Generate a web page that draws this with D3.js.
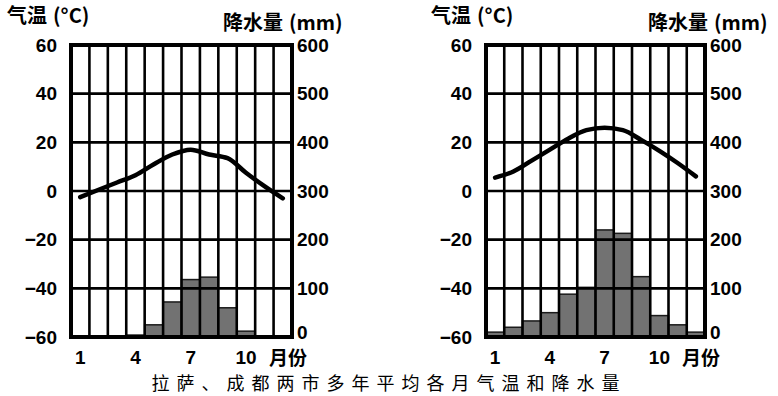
<!DOCTYPE html>
<html>
<head>
<meta charset="utf-8">
<script src="https://cdn.jsdelivr.net/npm/d3@7"></script>
<style>
  body { margin: 0; background: #fff; }
  svg { display: block; }
</style>
</head>
<body>
<div id="chart"></div>
<script>
(function() {
    "use strict";

    //==========================================================================================
    // Data
    //==========================================================================================
    var months = [1, 2, 3, 4, 5, 6, 7, 8, 9, 10, 11, 12];
    var monthTicks = [1, 4, 7, 10];
    var tempTicks = [60, 40, 20, 0, -20, -40, -60];
    var precipTicks = [600, 500, 400, 300, 200, 100, 0];

    // 拉萨
    var lhasaTemp = [-2.5, 0.5, 3.5, 6.5, 11, 15, 17, 15, 13.5, 7.5, 2, -3];
    var lhasaPrecip = [1, 2, 2, 4, 25, 72, 118, 123, 60, 12, 1, 1];

    // 成都
    var chengduTemp = [5.5, 8, 12.5, 17, 21.5, 25, 26, 25, 21, 16.5, 11.5, 6];
    var chengduPrecip = [10, 20, 33, 50, 88, 102, 220, 213, 124, 44, 25, 10];

    var width = 778;
    var height = 396;
    var top = 45;
    var bottom = 337;
    var numFont = "'Liberation Sans', Arial, sans-serif";
    var cjkFont = "'Noto Sans CJK SC', sans-serif";

    var svg = d3.select("#chart")
        .append("svg")
        .attr("width", width)
        .attr("height", height);

    //------------------------------------------------------------------------------------------
    // Axis title: CJK part + half-width unit part
    //------------------------------------------------------------------------------------------
    function addTitle(g, x, y, label, unit) {
        var t = g.append("text")
            .attr("x", x)
            .attr("y", y)
            .style("font-family", cjkFont)
            .style("font-size", "20px")
            .style("font-weight", "bold");
        t.append("tspan").text(label);
        t.append("tspan").attr("dx", 6).text(unit);
    }

    //------------------------------------------------------------------------------------------
    // One climate chart
    //------------------------------------------------------------------------------------------
    function drawChart(x0, x1, temps, precip, head) {
        var g = svg.append("g");

        var x = d3.scaleBand().domain(months).range([x0, x1]).padding(0);
        var yT = d3.scaleLinear().domain([-60, 60]).range([bottom, top]);
        var yP = d3.scaleLinear().domain([0, 600]).range([bottom, top]);

        // bars
        g.selectAll(".bar")
            .data(precip)
            .enter()
            .append("rect")
            .attr("class", "bar")
            .attr("x", function(d, i) { return x(months[i]); })
            .attr("width", x.bandwidth())
            .attr("y", function(d) { return yP(d); })
            .attr("height", function(d) { return bottom - yP(d); })
            .attr("fill", "#727272")
            .attr("stroke", "#1a1a1a")
            .attr("stroke-width", 1.5);

        // horizontal grid
        g.selectAll(".hgrid")
            .data(tempTicks)
            .enter()
            .append("line")
            .attr("x1", x0).attr("x2", x1)
            .attr("y1", function(d) { return yT(d); })
            .attr("y2", function(d) { return yT(d); })
            .attr("stroke", "#000")
            .attr("stroke-width", 2.6);

        // vertical grid
        g.selectAll(".vgrid")
            .data(months.slice(1))
            .enter()
            .append("line")
            .attr("x1", function(d) { return x(d); })
            .attr("x2", function(d) { return x(d); })
            .attr("y1", top).attr("y2", bottom)
            .attr("stroke", "#000")
            .attr("stroke-width", 2.6);

        // frame
        g.append("rect")
            .attr("x", x0).attr("y", top)
            .attr("width", x1 - x0).attr("height", bottom - top)
            .attr("fill", "none")
            .attr("stroke", "#000")
            .attr("stroke-width", 4);

        // temperature line
        var line = d3.line()
            .x(function(d, i) { return x(months[i]) + x.bandwidth() / 2; })
            .y(function(d) { return yT(d); })
            .curve(d3.curveMonotoneX);

        g.append("path")
            .datum(temps)
            .attr("d", line)
            .attr("fill", "none")
            .attr("stroke", "#000")
            .attr("stroke-width", 4.5)
            .attr("stroke-linecap", "round");

        // axes
        var axL = g.append("g")
            .attr("transform", "translate(" + x0 + ",0)")
            .call(d3.axisLeft(yT).tickValues(tempTicks).tickSize(0).tickPadding(14));
        var axR = g.append("g")
            .attr("transform", "translate(" + x1 + ",0)")
            .call(d3.axisRight(yP).tickValues(precipTicks).tickSize(0).tickPadding(5));
        var axB = g.append("g")
            .attr("transform", "translate(0," + bottom + ")")
            .call(d3.axisBottom(x).tickValues(monthTicks).tickSize(0).tickPadding(14));

        [axL, axR, axB].forEach(function(ax) {
            ax.select(".domain").remove();
            ax.selectAll("text")
                .attr("fill", "#000")
                .style("font-family", numFont)
                .style("font-size", "19px")
                .style("font-weight", "bold");
        });

        // lift the bottom "0" a bit off the month row
        axR.selectAll(".tick")
            .filter(function(d) { return d === 0; })
            .select("text")
            .attr("dy", "0.1em");

        g.append("text")
            .attr("x", x1 - 4)
            .attr("y", 365)
            .attr("text-anchor", "middle")
            .style("font-family", cjkFont)
            .style("font-size", "19px")
            .style("font-weight", "bold")
            .text("月份");

        addTitle(g, head.tx, 23, "气温", "(°C)");
        addTitle(g, head.px, 30, "降水量", "(mm)");
    }

    drawChart(71, 292, lhasaTemp, lhasaPrecip, { tx: 7, px: 223 });
    drawChart(486, 705, chengduTemp, chengduPrecip, { tx: 431, px: 648 });

    //------------------------------------------------------------------------------------------
    // Caption
    //------------------------------------------------------------------------------------------
    svg.append("text")
        .attr("x", 389)
        .attr("y", 390)
        .attr("text-anchor", "middle")
        .style("font-family", cjkFont)
        .style("font-size", "18px")
        .style("letter-spacing", "7px")
        .text("拉萨、成都两市多年平均各月气温和降水量");

})();
</script>
</body>
</html>
